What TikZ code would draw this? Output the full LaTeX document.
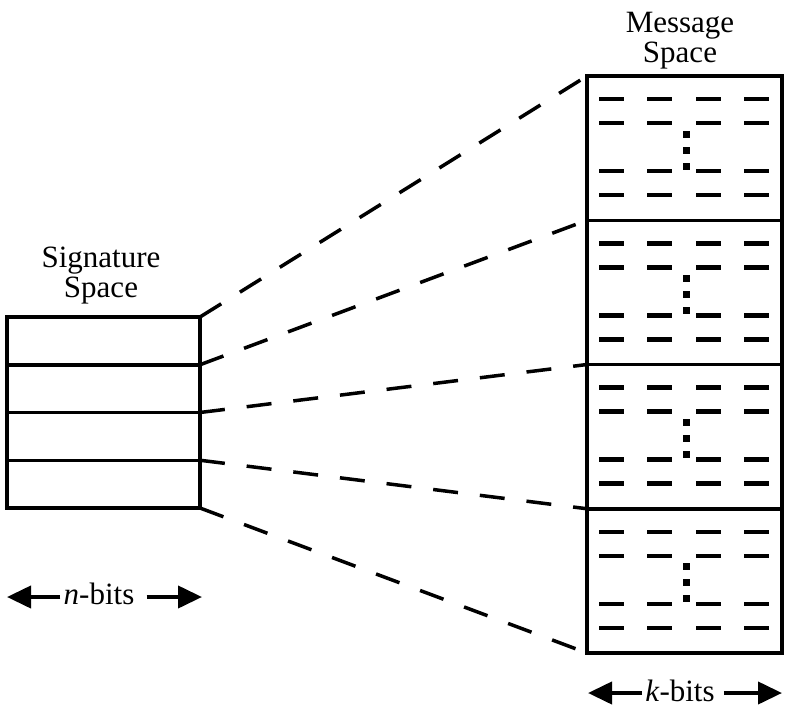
\documentclass[tikz,border=0pt]{standalone}
\usepackage{fontspec}
\setmainfont{Liberation Serif}
\usetikzlibrary{arrows.meta}
\begin{document}
\begin{tikzpicture}[x=1pt,y=-1pt,
  boxline/.style={line width=3.5pt, line join=miter},
  conn/.style={line width=3.5pt, dash pattern=on 25pt off 22pt},
  msgdash/.style={line width=4.5pt},
  lbl/.style={font=\fontsize{31}{30}\selectfont, align=center, inner sep=0pt},
  bitlbl/.style={font=\fontsize{31}{31}\selectfont, inner sep=0pt},
  bitarrow/.style={line width=4pt, -{Triangle[length=24pt,width=22pt]}}]
\useasboundingbox (0,0) rectangle (787,709);
\foreach \i in {0,...,4} {
  \coordinate (sL\i) at (7,{317+47.75*\i});
  \coordinate (sR\i) at (200,{317+47.75*\i});
  \coordinate (mL\i) at (587,{76+144.25*\i});
  \coordinate (mR\i) at (782,{76+144.25*\i});
}
% signature space box
\draw[boxline] (sL0) rectangle (sR4);
\foreach \i in {1,2,3} \draw[boxline] (sL\i) -- (sR\i);
% message space box
\draw[boxline] (mL0) rectangle (mR4);
\foreach \i in {1,2,3} \draw[boxline] (mL\i) -- (mR\i);
% connectors
\foreach \i in {0,...,4} \draw[conn] (sR\i) -- (mL\i);
% message contents
\foreach \b in {0,...,3} {
  \foreach \r in {23,47,95,119} {
    \foreach \c in {599,647,696,744} {
      \draw[msgdash] (\c,{76+144.25*\b+\r}) -- ++(25,0);
    }
  }
  \foreach \d in {58,74,90} {
    \fill (683,{76+144.25*\b+\d-3.5}) rectangle ++(7,7);
  }
}
% labels
\node[lbl] (sig) at (101,276) {Signature\\Space};
\node[lbl] (msg) at (680,41) {Message\\Space};
\node[bitlbl, anchor=base] (nb) at (99,604) {\textit{n}-bits};
\node[bitlbl, anchor=base] (kb) at (680,701) {\textit{k}-bits};
\coordinate (nL) at (7,597);
\coordinate (nR) at (202,597);
\coordinate (kL) at (588,693);
\coordinate (kR) at (782,693);
\draw[bitarrow] ([xshift=-3pt]nL -| nb.west) -- (nL);
\draw[bitarrow] ([xshift=12pt]nR -| nb.east) -- (nR);
\draw[bitarrow] ([xshift=-3pt]kL -| kb.west) -- (kL);
\draw[bitarrow] ([xshift=9pt]kR -| kb.east) -- (kR);
\end{tikzpicture}
\end{document}
